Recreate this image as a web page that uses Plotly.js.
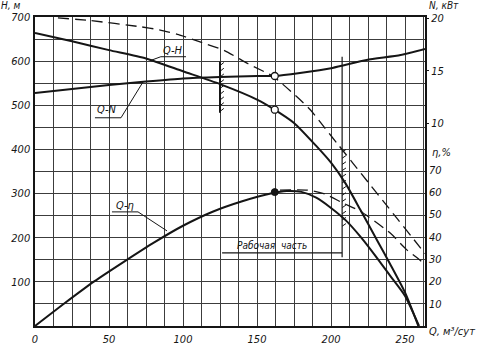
<!DOCTYPE html>
<html><head><meta charset="utf-8">
<script src="https://cdn.plot.ly/plotly-3.0.1.min.js"></script>
<style>html,body{margin:0;padding:0;background:#fff}#chart{width:483px;height:351px}</style>
</head><body><div id="chart"></div>
<script>
// Q, м3/сут — flow; H, м — head; N, кВт — power; η, % — efficiency
const qH = [0,25,50,75,100,125,150,161,175,190,200,210,220,231,240,250,259];
const headH = [664,645,625,606,577,548,513,492,460,408,370,322,262,195,140,76,0];
const qN = [0,25,50,75,100,125,150,162,179,201,224,247,263.5];
const powerN = [12.90,13.29,13.67,14.0,14.29,14.43,14.52,14.52,14.81,15.29,16.05,16.52,17.1];
const qEta = [0,20,40,60,80,100,120,140,160,170,180,190,200,210,220,230,240,250,259.5];
const effEta = [0,10.2,20,28.8,37.3,45,51.3,56,59.6,60.6,60.2,57.6,53,47.4,40,31.5,22.5,13.5,0];
const qH2 = [15.5,37,71,84,97,111,128,144,161,176,186,195,205,215,225,235,245,255,263.5];
const headH2 = [698,692,678,671,660,644,624,594,565,522,490,452,410,368,326,284,242,200,164];
const qEta2 = [165.5,184,196,208,219.6,240,250.7,260,263.5];
const effEta2 = [61,61,59.2,55.2,51.6,41.7,34.5,29.6,27.4];
const opQ = [162];
const opH = [490];
const opN = [14.52];
const opEta = [60.1];
const workQ = [125, 207.5];
const xTicks = [0,50,100,150,200,250];
const hTicks = [100,200,300,400,500,600,700];
const nTicks = [10,15,20];
const etaTicks = [10,20,30,40,50,60,70];

const INK = '#151515';
const FONT = {family:'DejaVu Sans Condensed, DejaVu Sans', size:11, style:'italic', color:INK};

const traces = [
  {x:qH2, y:headH2, mode:'lines', line:{color:INK, width:1.3, dash:'11px,6px', shape:'spline', smoothing:0.6}, yaxis:'y'},
  {x:qEta2, y:effEta2, mode:'lines', line:{color:INK, width:1.3, dash:'11px,6px', shape:'spline', smoothing:0.6}, yaxis:'y3'},
  {x:qH, y:headH, mode:'lines', line:{color:INK, width:2, shape:'spline', smoothing:0.6}, yaxis:'y'},
  {x:qN, y:powerN, mode:'lines', line:{color:INK, width:2, shape:'spline', smoothing:0.6}, yaxis:'y2'},
  {x:qEta, y:effEta, mode:'lines', line:{color:INK, width:2, shape:'spline', smoothing:0.6}, yaxis:'y3'},
  {x:opQ, y:opH, mode:'markers', marker:{size:7, color:'#fff', line:{color:INK, width:1.3}}, yaxis:'y'},
  {x:opQ, y:opN, mode:'markers', marker:{size:7, color:'#fff', line:{color:INK, width:1.3}}, yaxis:'y2'},
  {x:opQ, y:opEta, mode:'markers', marker:{size:7, color:INK, line:{color:INK, width:1}}, yaxis:'y3'}
];

const shapes = [];
function seg(x0,y0,x1,y1,w){shapes.push({type:'line',xref:'x',yref:'y',x0,y0,x1,y1,line:{color:INK,width:w||1}});}
// working range limits
seg(workQ[0],483,workQ[0],599,2);
for(let h=486;h<596;h+=13){seg(workQ[0],h,workQ[0]+2.6,h+7,1);}
seg(workQ[1],156,workQ[1],610,1.2);
for(let h=226;h<400;h+=14){seg(workQ[1],h,workQ[1]+2.6,h+6,1);}
// "Рабочая часть" dimension line
seg(126.4,165.5,workQ[1],165.5,1.2);
// label leaders & underlines
seg(77.7,601,85,610,1); seg(85,610,102,610,1);
seg(40.5,471.7,58.1,471.7,1); seg(58.1,471.7,73,553,1);
seg(52,258.5,69.6,258.5,1); seg(69.6,258.5,89.2,215.4,1);

const ann = (text,x,y,opt)=>Object.assign({text,x,y,xref:'x',yref:'y',showarrow:false,font:FONT},opt||{});
const pann = (text,x,y,opt)=>Object.assign({text,x,y,xref:'paper',yref:'paper',showarrow:false,font:FONT},opt||{});
const SMALL = Object.assign({},FONT,{size:10});

const layout = {
  width:483, height:351,
  margin:{l:35, r:58, t:17, b:25},
  paper_bgcolor:'#fff', plot_bgcolor:'#fff',
  showlegend:false,
  font:FONT,
  xaxis:{range:[0,263.5], tickvals:xTicks, ticktext:xTicks.map(String), showgrid:true, gridcolor:'#3c3c3c', gridwidth:1,
         minor:{dtick:12.5, tick0:0, showgrid:true, gridcolor:'#3c3c3c', gridwidth:1},
         showline:true, linecolor:INK, linewidth:1.6, mirror:true, zeroline:false, ticks:'', tickfont:FONT, ticklabelstandoff:2},
  yaxis:{range:[0,700], tickvals:hTicks, ticktext:hTicks.map(String), showgrid:true, gridcolor:'#3c3c3c', gridwidth:1,
         minor:{dtick:50, tick0:0, showgrid:true, gridcolor:'#3c3c3c', gridwidth:1},
         showline:true, linecolor:INK, linewidth:1.6, mirror:true, zeroline:false, ticks:'', tickfont:FONT, ticklabelstandoff:1},
  yaxis2:{range:[-9.29,20.14], overlaying:'y', side:'right', anchor:'x', tickvals:nTicks, ticktext:nTicks.map(String),
          showgrid:false, zeroline:false, showline:false, ticks:'outside', ticklen:3, tickcolor:INK, tickfont:FONT},
  yaxis3:{range:[0,138.7], overlaying:'y', side:'right', anchor:'x', tickvals:etaTicks, ticktext:etaTicks.map(String),
          showgrid:false, zeroline:false, showline:false, ticks:'', tickfont:FONT, ticklabelstandoff:3},
  shapes,
  annotations:[
    ann('Q-H',93,624),
    ann('Q-N',48.6,490),
    ann('Q-η',60.8,274),
    ann('Рабочая  часть',160,181.4,{font:SMALL}),
    pann('H, м',-0.062,1.021,{xanchor:'center',yanchor:'bottom',font:SMALL,yshift:-2}),
    pann('N, кВт',1.006,1.021,{xanchor:'left',yanchor:'bottom',font:SMALL,yshift:-2}),
    pann('η,%',1.012,0.56,{xanchor:'left',yanchor:'middle'}),
    pann('Q, м³/сут',1.006,-0.017,{xanchor:'left',yanchor:'middle'})
  ]
};
Plotly.newPlot('chart', traces, layout, {staticPlot:true, displayModeBar:false});
</script>
</body></html>
